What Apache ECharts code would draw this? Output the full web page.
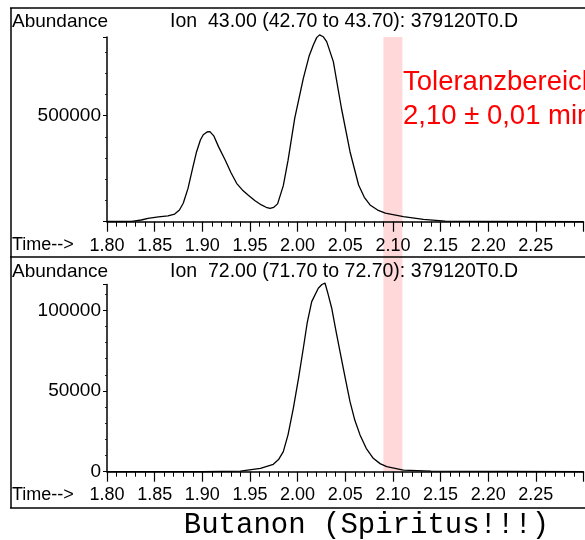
<!DOCTYPE html>
<html><head><meta charset="utf-8">
<script src="https://cdn.jsdelivr.net/npm/echarts@6/dist/echarts.min.js"></script>
<style>html,body{margin:0;padding:0;background:#fff}#c{width:585px;height:540px}</style>
</head><body><div id="c"></div>
<script>
// Ion 43 chromatogram (time in min, abundance)
const ion43Time  = [1.800,1.815,1.826,1.836,1.843,1.854,1.864,1.871,1.876,1.880,1.885,1.890,1.894,1.898,1.901,1.905,1.908,1.912,1.917,1.924,1.930,1.936,1.942,1.948,1.955,1.962,1.967,1.971,1.975,1.979,1.985,1.990,1.997,2.006,2.012,2.0165,2.020,2.023,2.027,2.0305,2.0375,2.046,2.055,2.064,2.070,2.076,2.084,2.092,2.111,2.132,2.155,2.200,2.300];
const ion43Abund = [2000,1000,2000,8000,16000,23000,27000,36000,55000,87000,157000,255000,330000,385000,410000,423000,425000,405000,354000,291000,232000,181000,150000,126000,100000,79000,68000,63000,68000,84000,170000,290000,488000,676000,780000,833000,868000,881000,872000,849000,755000,535000,330000,173000,115000,79000,55000,40000,24000,11000,3000,1000,500];
// Ion 72 chromatogram
const ion72Time  = [1.800,1.900,1.940,1.961,1.9745,1.980,1.985,1.990,1.9955,2.001,2.006,2.010,2.0148,2.0217,2.0255,2.0288,2.032,2.0358,2.040,2.0445,2.050,2.055,2.060,2.0655,2.072,2.0794,2.0865,2.0935,2.111,2.140,2.300];
const ion72Abund = [0,0,400,2100,4600,7500,12400,23000,39300,58000,76500,92000,105400,113700,116000,116800,110000,101300,88000,74400,58000,43400,32000,22800,14500,8300,5000,3100,1000,300,0];
// axis ticks / labels
const xTickLabels = ['1.80','1.85','1.90','1.95','2.00','2.05','2.10','2.15','2.20','2.25'];
const yTickLabelsTop = [500000];
const yTickLabelsBottom = [0, 50000, 100000];
const yMaxTop = 871000;
const yMaxBottom = 116000;
const tolerance = [2.09, 2.11];
const titles = ['Ion  43.00 (42.70 to 43.70): 379120T0.D', 'Ion  72.00 (71.70 to 72.70): 379120T0.D'];
const toleranceText = ['Toleranzbereich', '2,10 \u00b1 0,01 min'];
const caption = 'Butanon (Spiritus!!!)';

const FONT = '"Liberation Sans", Arial, sans-serif';
const pairs = (t, v) => t.map((x, i) => [x, v[i]]);
const chart = echarts.init(document.getElementById('c'));

const xAxis = (gridIndex, margin) => ({
  type: 'value', gridIndex, min: 1.8, max: 2.3, interval: 0.05,
  axisLine: {show: true, onZero: false, lineStyle: {color: '#000', width: 1.5}},
  axisTick: {show: true, length: 10, lineStyle: {color: '#000', width: 1.2}},
  minorTick: {show: true, splitNumber: 5, length: 5, lineStyle: {color: '#000', width: 1}},
  splitLine: {show: false}, minorSplitLine: {show: false},
  axisLabel: {margin, fontFamily: FONT, fontSize: 18, color: '#000',
    customValues: xTickLabels.map(Number), formatter: v => v.toFixed(2)}
});
const yAxis = (gridIndex, max, interval, labels) => ({
  type: 'value', gridIndex, min: 0, max, interval,
  axisLine: {show: true, lineStyle: {color: '#000', width: 1.5}},
  axisTick: {show: true, length: 4, lineStyle: {color: '#000', width: 1}},
  minorTick: {show: true, splitNumber: 5, length: 2, lineStyle: {color: '#000', width: 0.8}},
  splitLine: {show: false},
  axisLabel: {margin: 6, fontFamily: FONT, fontSize: 19, color: '#000',
    customValues: labels, formatter: v => String(v)}
});
const lineSeries = (idx, t, v) => ({
  type: 'line', xAxisIndex: idx, yAxisIndex: idx, data: pairs(t, v),
  showSymbol: false, smooth: false, clip: false, z: 3,
  lineStyle: {color: '#000', width: 1.3, join: 'round'}, animation: false
});

chart.setOption({
  animation: false,
  backgroundColor: '#fff',
  grid: [
    {left: 107, top: 37, width: 476.5, height: 184.7},
    {left: 107, top: 284.5, width: 476.5, height: 187.2}
  ],
  xAxis: [xAxis(0, 15), xAxis(1, 14)],
  yAxis: [yAxis(0, yMaxTop, 500000, yTickLabelsTop), yAxis(1, yMaxBottom, 50000, yTickLabelsBottom)],
  series: [lineSeries(0, ion43Time, ion43Abund), lineSeries(1, ion72Time, ion72Abund)]
});

const bx1 = chart.convertToPixel({xAxisIndex: 0}, tolerance[0]);
const bx2 = chart.convertToPixel({xAxisIndex: 0}, tolerance[1]);
const byTop = chart.convertToPixel({yAxisIndex: 0}, yMaxTop);
const byBot = chart.convertToPixel({yAxisIndex: 1}, 0);

const txt = (text, x, y, font, fill, align) => ({
  type: 'text', z: 10,
  style: {text, x, y, font, fill: fill || '#000', textAlign: align || 'left', textVerticalAlign: 'middle'}
});
const ln = (x1, y1, x2, y2) => ({
  type: 'line', z: 5, shape: {x1, y1, x2, y2}, style: {stroke: '#000', lineWidth: 1.5}
});

chart.setOption({
  graphic: [
    {type: 'rect', z: -10, shape: {x: bx1, y: byTop, width: bx2 - bx1, height: byBot - byTop},
     style: {fill: '#ffd9d9'}},
    ln(10, 8, 585, 8), ln(11, 8, 11, 508), ln(10, 257, 585, 257), ln(10, 508, 585, 508),
    txt('Abundance', 12, 21.5, '19px ' + FONT),
    txt(titles[0], 170, 21.5, '19.5px ' + FONT),
    txt('Abundance', 12, 271.5, '19px ' + FONT),
    txt(titles[1], 170, 271.5, '19.5px ' + FONT),
    txt('Time-->', 12, 245, '18px ' + FONT),
    txt('Time-->', 12, 495, '18px ' + FONT),
    txt(toleranceText[0], 403, 82, '27.5px ' + FONT, '#ff0000'),
    txt(toleranceText[1], 403, 116, '27.5px ' + FONT, '#ff0000'),
    txt(caption, 366.5, 525, '29px "Liberation Mono", "Courier New", monospace', '#000', 'center')
  ]
});
</script>
</body></html>
